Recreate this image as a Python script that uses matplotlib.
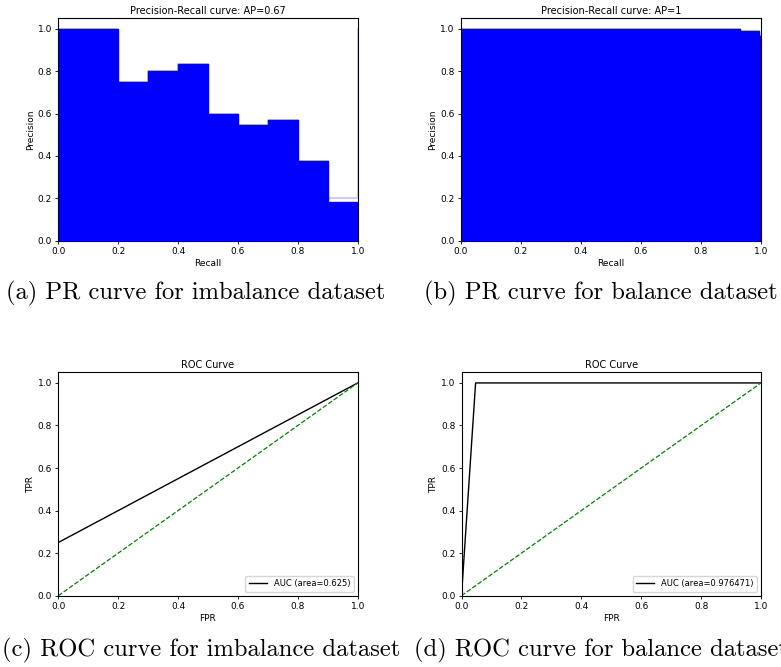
import matplotlib
matplotlib.use('Agg')
import matplotlib.pyplot as plt

# (a) PR curve, imbalance dataset
recall_a = [0.0, 0.1, 0.2, 0.3, 0.4, 0.5, 0.6, 0.7, 0.8, 0.9, 1.0, 1.0]
prec_a = [1.0, 1.0, 0.75, 0.8, 0.833, 0.6, 0.545, 0.571, 0.375, 0.2, 0.2, 1.0]
prec_a_fill = [1.0, 1.0, 0.75, 0.8, 0.833, 0.6, 0.545, 0.571, 0.375, 0.185, 0.185, 0.185]
ap_a = 0.67

# (b) PR curve, balance dataset
recall_b = [0.0, 0.93, 0.992, 1.0]
prec_b = [1.0, 0.99, 0.965, 0.965]
ap_b = 1

# (c) ROC, imbalance dataset
fpr_c = [0.0, 0.0, 1.0]
tpr_c = [0.0, 0.25, 1.0]
auc_c = 0.625

# (d) ROC, balance dataset
fpr_d = [0.0, 0.047059, 1.0]
tpr_d = [0.0, 1.0, 1.0]
auc_d = 0.976471

captions = ['(a) PR curve for imbalance dataset',
            '(b) PR curve for balance dataset',
            '(c) ROC curve for imbalance dataset',
            '(d) ROC curve for balance dataset']

plt.rcParams['font.size'] = 6.5
plt.rcParams['axes.linewidth'] = 0.8
plt.rcParams['xtick.major.size'] = 2.5
plt.rcParams['ytick.major.size'] = 2.5
plt.rcParams['xtick.major.width'] = 0.6
plt.rcParams['ytick.major.width'] = 0.6
plt.rcParams['xtick.major.pad'] = 2
plt.rcParams['ytick.major.pad'] = 2

fig = plt.figure(figsize=(7.81, 6.67), dpi=100)
W, H = 781, 667


def add_ax(left, top, right, bottom):
    return fig.add_axes([left / W, 1 - bottom / H, (right - left) / W, (bottom - top) / H])


def pr_plot(ax, recall, prec, prec_fill, ap):
    ax.step(recall, prec, color='b', alpha=0.2, where='post')
    ax.fill_between(recall, prec_fill, step='post', alpha=1, color='b')
    ax.set_xlabel('Recall', fontsize=6.5, labelpad=2)
    ax.set_ylabel('Precision', fontsize=6.5, labelpad=2)
    ax.set_ylim([0.0, 1.05])
    ax.set_xlim([0.0, 1.0])
    ax.set_title('Precision-Recall curve: AP={}'.format(ap), fontsize=7, pad=3)


def roc_plot(ax, fpr, tpr, auc):
    ax.plot(fpr, tpr, 'k-', lw=1, label='AUC (area={})'.format(auc))
    ax.plot([0, 1], [0, 1], 'g--', lw=0.9)
    ax.set_xlim([0.0, 1.0])
    ax.set_ylim([0.0, 1.05])
    ax.set_xlabel('FPR', fontsize=6.5, labelpad=2)
    ax.set_ylabel('TPR', fontsize=6.5, labelpad=2)
    ax.set_title('ROC Curve', fontsize=7, pad=3)
    ax.legend(loc='lower right', fontsize=6, handlelength=2.2)


ax_a = add_ax(58.3, 18.3, 357.7, 240.7)
pr_plot(ax_a, recall_a, prec_a, prec_a_fill, ap_a)

ax_b = add_ax(461, 18.3, 761, 240.7)
pr_plot(ax_b, recall_b, prec_b, prec_b, ap_b)

ax_c = add_ax(58.3, 372.3, 357.7, 595.7)
roc_plot(ax_c, fpr_c, tpr_c, auc_c)

ax_d = add_ax(461.5, 372.3, 761, 595.7)
roc_plot(ax_d, fpr_d, tpr_d, auc_d)

cap_pos = [(6, 293), (424, 293), (2, 650), (414, 650)]
for (x, y), txt in zip(cap_pos, captions):
    fig.text(x / W, 1 - y / H, txt, family='cmr10', fontsize=17.7, ha='left', va='center')

plt.savefig('out.png', dpi=100)
